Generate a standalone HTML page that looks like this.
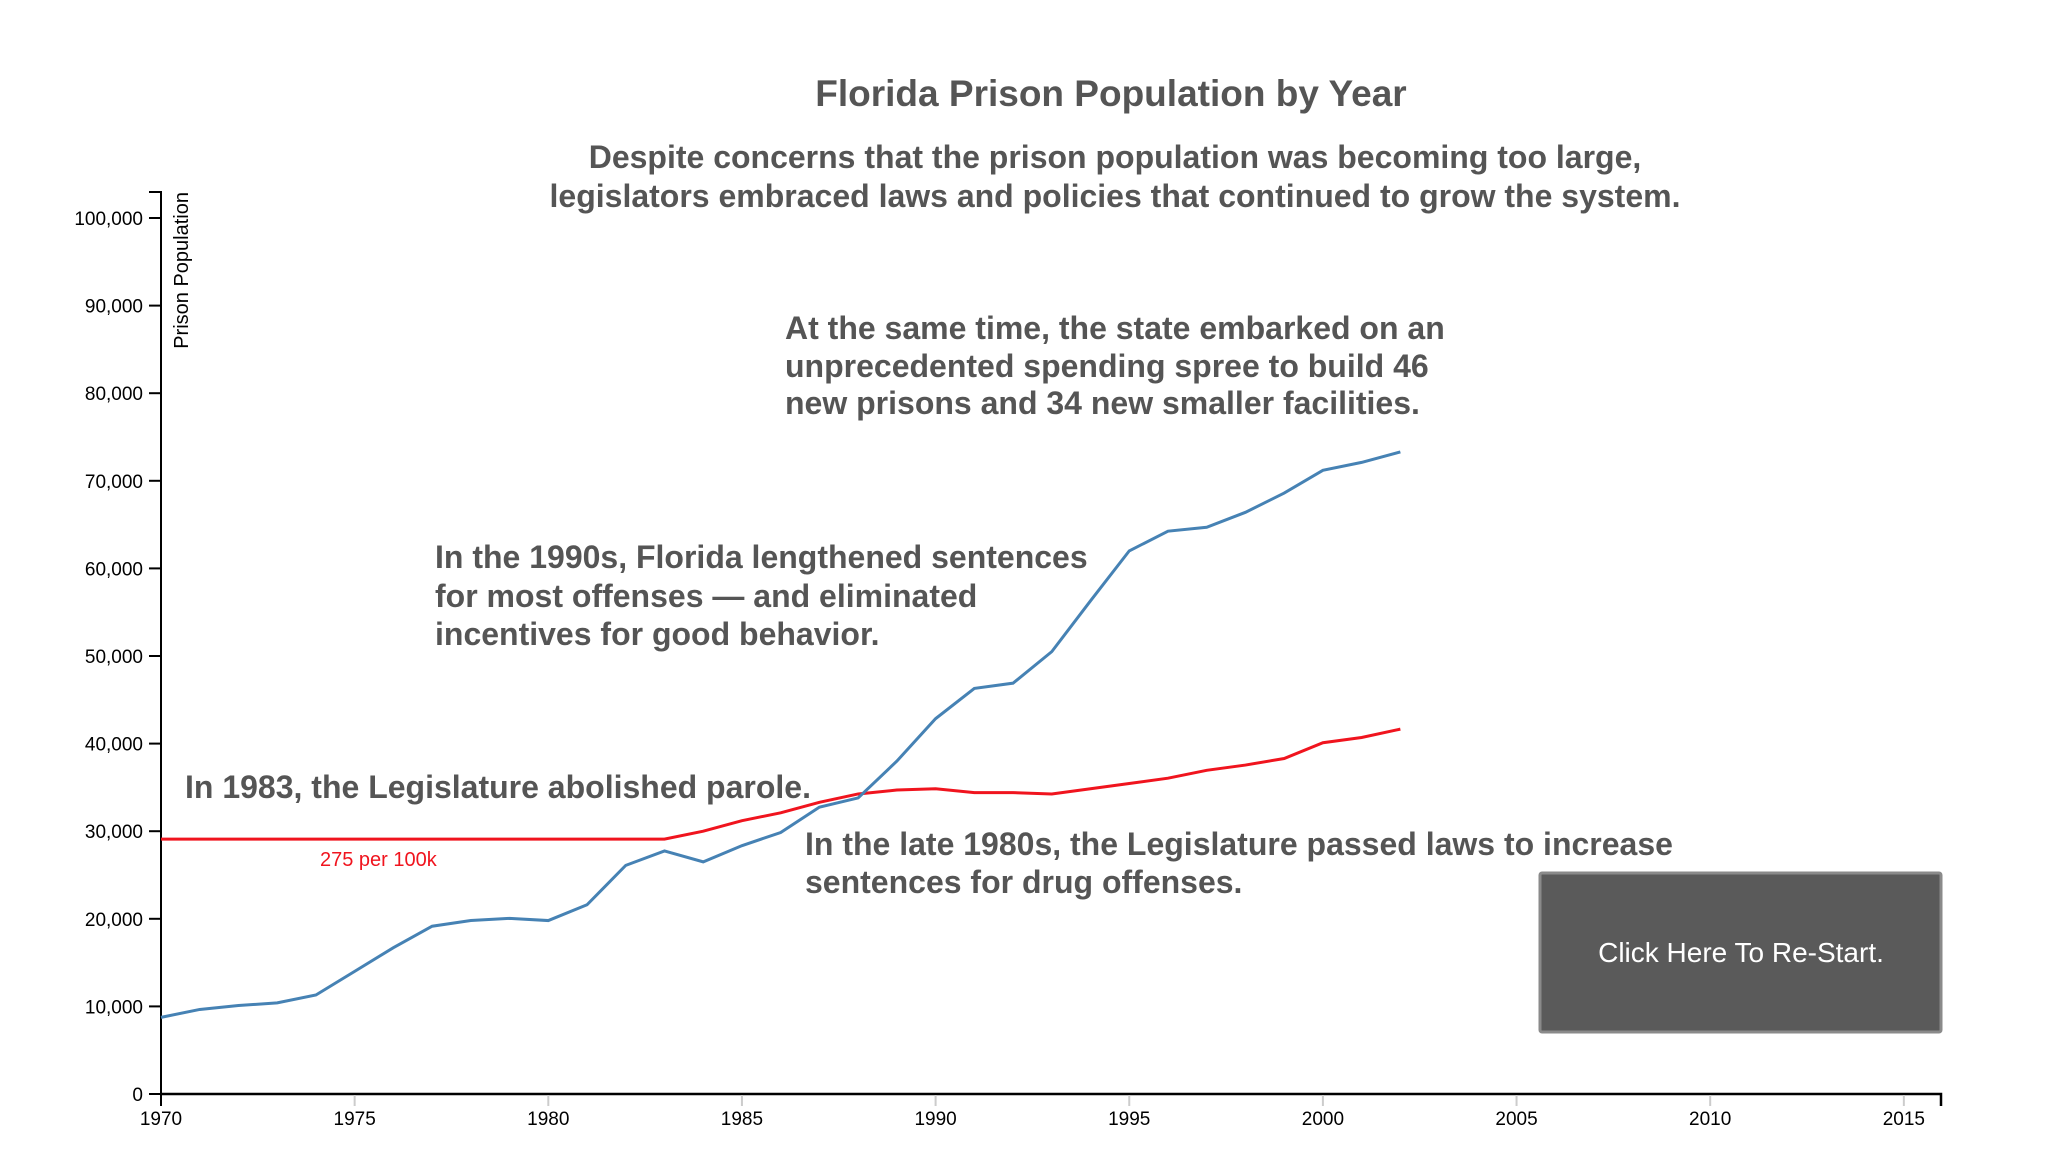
<!DOCTYPE html>
<html><head><meta charset="utf-8"><style>
body{margin:0;background:#fff;width:2070px;height:1160px;overflow:hidden;font-family:"Liberation Sans",sans-serif;}
svg{display:block}
.ann{font-weight:bold;fill:#555;font-size:32px}
</style></head><body>
<svg id="chart" width="2070" height="1160">
<text x="1111" y="106" text-anchor="middle" font-size="37" font-weight="bold" fill="#555">Florida Prison Population by Year</text>
<g>
<text x="1115" y="168" text-anchor="middle" class="ann">Despite concerns that the prison population was becoming too large,</text>
<text x="1115" y="207" text-anchor="middle" class="ann">legislators embraced laws and policies that continued to grow the system.</text>
</g>
<g id="axes"></g>
<g id="lines"></g>
<g>
<text x="785" y="339" class="ann">At the same time, the state embarked on an</text>
<text x="785" y="377" class="ann">unprecedented spending spree to build 46</text>
<text x="785" y="414" class="ann">new prisons and 34 new smaller facilities.</text>
</g>
<g>
<text x="435" y="568" class="ann">In the 1990s, Florida lengthened sentences</text>
<text x="435" y="607" class="ann">for most offenses — and eliminated</text>
<text x="435" y="645" class="ann">incentives for good behavior.</text>
</g>
<text x="185" y="798" class="ann">In 1983, the Legislature abolished parole.</text>
<g>
<text x="805" y="855" class="ann">In the late 1980s, the Legislature passed laws to increase</text>
<text x="805" y="893" class="ann">sentences for drug offenses.</text>
</g>
<text x="320" y="866" font-size="20" fill="#f0141e">275 per 100k</text>
<text transform="translate(188,192) rotate(-90)" text-anchor="end" font-size="20" fill="#000">Prison Population</text>
<g style="cursor:pointer">
<rect x="1540" y="873" width="401" height="159" fill="#5a5a5a" stroke="#8a8a8a" stroke-width="3" rx="2"/>
<text x="1741" y="962" text-anchor="middle" font-size="28" fill="#fff">Click Here To Re-Start.</text>
</g>
</svg>
<script>
const years=[1970,1971,1972,1973,1974,1975,1976,1977,1978,1979,1980,1981,1982,1983,1984,1985,1986,1987,1988,1989,1990,1991,1992,1993,1994,1995,1996,1997,1998,1999,2000,2001,2002];
const population=[8750,9650,10100,10400,11300,14000,16700,19150,19800,20050,19800,21600,26100,27750,26500,28350,29850,32750,33800,38000,42850,46300,46900,50500,56300,62000,64250,64700,66400,68600,71200,72100,73300];
const rateLine=[29100,29100,29100,29100,29100,29100,29100,29100,29100,29100,29100,29100,29100,29100,30000,31200,32100,33300,34250,34700,34850,34400,34400,34250,34850,35450,36050,36950,37550,38300,40100,40700,41650];
const xTicks=[1970,1975,1980,1985,1990,1995,2000,2005,2010,2015];
const yTicks=[0,10000,20000,30000,40000,50000,60000,70000,80000,90000,100000];
const NS="http://www.w3.org/2000/svg";
function x(yr){return 161+(yr-1970)*38.73;}
function y(v){return 1094-v*0.00876;}
function mk(tag,attrs,parent){const e=document.createElementNS(NS,tag);for(const k in attrs)e.setAttribute(k,attrs[k]);parent.appendChild(e);return e;}
const ax=document.getElementById('axes');
const yAxis=mk('g',{},ax);


mk('path',{d:`M149,192H161V1094`,fill:'none',stroke:'#000','stroke-width':2},yAxis);
yTicks.forEach(v=>{
 mk('line',{x1:149,x2:161,y1:y(v),y2:y(v),stroke:'#000','stroke-width':2},yAxis);
 const t=mk('text',{x:143,y:y(v)+7,'text-anchor':'end','font-size':19},yAxis);
 
 
 t.textContent=v.toLocaleString('en-US');
});
const xAxis=mk('g',{},ax);


mk('path',{d:`M161,1094H1941V1106`,fill:'none',stroke:'#000','stroke-width':2.5},xAxis);
xTicks.forEach(v=>{
 mk('line',{x1:x(v),x2:x(v),y1:1095,y2:1106,stroke:v===1970?'#000':'#ccc','stroke-width':2},xAxis);
 const t=mk('text',{x:x(v),y:1125,'text-anchor':'middle','font-size':19},xAxis);
 
 
 t.textContent=v;
});
const lg=document.getElementById('lines');
const pl=mk('path',{d:years.map((yr,i)=>(i?'L':'M')+x(yr)+','+y(rateLine[i])).join(''),fill:'none',stroke:'#f0141e','stroke-width':3},lg);


const bl=mk('path',{d:years.map((yr,i)=>(i?'L':'M')+x(yr)+','+y(population[i])).join(''),fill:'none',stroke:'#4682b4','stroke-width':3},lg);


</script>
</body></html>
